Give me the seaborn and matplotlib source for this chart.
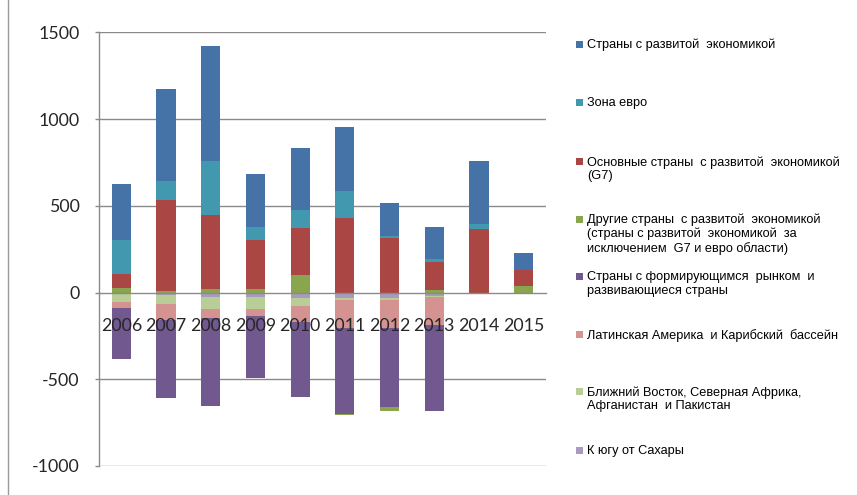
import numpy as np
import matplotlib
matplotlib.use("Agg")
import matplotlib.pyplot as plt
from matplotlib.patches import Rectangle
from matplotlib.lines import Line2D
import seaborn as sns

years = ["2006", "2007", "2008", "2009", "2010", "2011", "2012", "2013", "2014", "2015"]

advanced = [321, 531, 663, 306, 356, 370, 188, 183, 362, 100]
euro = [195, 109, 308, 76, 102, 156, 12, 16, 29, 0]
g7 = [83, 522, 429, 280, 271, 428, 316, 164, 366, 90]
other_adv = [25, 10, 20, 20, 103, -10, -25, 13, 0, 38]
emerging = [-297, -446, -509, -356, -430, -494, -455, -494, 0, 0]
latam = [-33, -92, -54, -42, -90, -159, -159, -164, 0, 0]
menap = [-54, -52, -67, -67, -50, -15, -15, -3, 0, 0]
subsahara = [0, -17, -27, -27, -30, -30, -30, -21, 0, 0]

labels = [
    "Страны с развитой  экономикой",
    "Зона евро",
    "Основные страны  с развитой  экономикой\n(G7)",
    "Другие страны  с развитой  экономикой\n(страны с развитой  экономикой  за\nисключением  G7 и евро области)",
    "Страны с формирующимся  рынком  и\nразвивающиеся страны",
    "Латинская Америка  и Карибский  бассейн",
    "Ближний Восток, Северная Африка,\nАфганистан  и Пакистан",
    "К югу от Сахары",
]
colors = ["#4572A7", "#4198AF", "#AA4643", "#89A54E",
          "#71588F", "#D49390", "#B9CD96", "#A99BBD"]
series_legend_order = [advanced, euro, g7, other_adv, emerging, latam, menap, subsahara]

# stacking order (from the axis outward)
stack_idx = [7, 6, 5, 4, 3, 2, 1, 0]

sns.set_style("white")
plt.rcParams["font.family"] = ["Liberation Sans", "DejaVu Sans"]

fig = plt.figure(figsize=(8.57, 4.95), dpi=100)
ax = fig.add_axes([99 / 857, 1 - 466 / 495, (546 - 99) / 857, (466 - 32.3) / 495])

pos_base = np.zeros(len(years))
neg_base = np.zeros(len(years))
for i in stack_idx:
    v = np.array(series_legend_order[i], dtype=float)
    bottom = np.where(v >= 0, pos_base, neg_base)
    sns.barplot(x=years, y=v, bottom=bottom, color=colors[i], width=0.43,
                saturation=1, errorbar=None, order=years, ax=ax, zorder=2,
                linewidth=0)
    pos_base = pos_base + np.where(v >= 0, v, 0)
    neg_base = neg_base + np.where(v < 0, v, 0)

ax.set_axisbelow(False)

grid_c = "#8A8A8A"
ax.set_xlim(-0.5, 9.5)
ax.set_ylim(-1000, 1500)
yt = [-1000, -500, 0, 500, 1000, 1500]
ax.set_yticks(yt)
ax.set_yticklabels([str(t) for t in yt])
for t in yt:
    if t != 0:
        ax.axhline(t, color=grid_c, lw=1.0, zorder=0.5)
ax.grid(False)

ax.set_xlabel("")
ax.set_ylabel("")
for s in ["top", "right"]:
    ax.spines[s].set_visible(False)
ax.spines["bottom"].set_position(("data", 0))
ax.spines["bottom"].set_color(grid_c)
ax.spines["left"].set_color(grid_c)
ax.spines["bottom"].set_linewidth(1.0)
ax.spines["left"].set_linewidth(1.0)
ax.spines["bottom"].set_zorder(2.6)

ax.set_xticks(range(len(years)))
ax.set_xticklabels(years)
ax.set_xticks(np.arange(-0.5, len(years), 1.0), minor=True)
ax.tick_params(axis="x", which="major", length=0, pad=18.5, labelsize=12.8)
ax.tick_params(axis="x", which="minor", length=4, color=grid_c, width=1, direction="out")
ax.tick_params(axis="y", length=3, color=grid_c, width=1, pad=11, labelsize=12.8, left=True)
for lbl in ax.get_xticklabels() + ax.get_yticklabels():
    lbl.set_fontfamily(["Lato", "DejaVu Sans"])
ax.xaxis.set_zorder(3)

# legend
W, H = 857, 495
centers = [44.3, 102.3, 161.7, 219.0, 276.7, 334.3, 391.7, 450.7]
for lab, col, cy in zip(labels, colors, centers):
    fig.patches.append(Rectangle((576 / W, 1 - (cy + 3.5) / H), 7 / W, 7 / H,
                                 transform=fig.transFigure, facecolor=col,
                                 edgecolor="none"))
    fig.text(587 / W, 1 - (cy - 5.5) / H, lab, fontsize=9.2, va="top", ha="left",
             color="#000000", linespacing=1.2)

# outer chart border (left)
fig.add_artist(Line2D([8.3 / W, 8.3 / W], [0, 1], color="#9A9A9A", lw=1.0,
                      transform=fig.transFigure))

fig.savefig("out.png", dpi=100)
